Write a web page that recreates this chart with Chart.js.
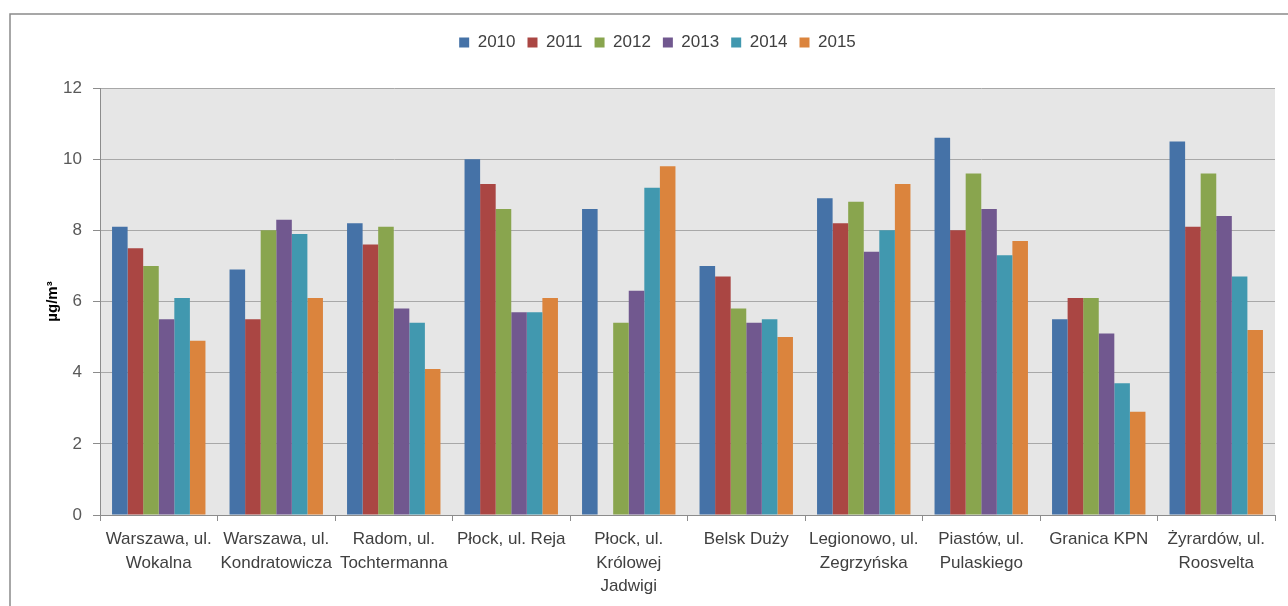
<!DOCTYPE html>
<html>
<head>
<meta charset="utf-8">
<title>PM2.5 – średnie roczne</title>
<script src="https://cdn.jsdelivr.net/npm/chart.js@4/dist/chart.umd.min.js"></script>
<style>
  html, body { margin: 0; padding: 0; background: #fff; }
  #wrap { width: 1288px; height: 606px; }
</style>
</head>
<body>
<div id="wrap"><canvas id="c" width="1288" height="606"></canvas></div>
<script>
// Stations (multi-line category labels)
const stations = [
  ['Warszawa, ul.', 'Wokalna'],
  ['Warszawa, ul.', 'Kondratowicza'],
  ['Radom, ul.', 'Tochtermanna'],
  ['Płock, ul. Reja'],
  ['Płock, ul.', 'Królowej', 'Jadwigi'],
  ['Belsk Duży'],
  ['Legionowo, ul.', 'Zegrzyńska'],
  ['Piastów, ul.', 'Pulaskiego'],
  ['Granica KPN'],
  ['Żyrardów, ul.', 'Roosvelta']
];

// Annual mean concentrations, µg/m³
const years = ['2010', '2011', '2012', '2013', '2014', '2015'];
const v2010 = [8.1, 6.9, 8.2, 10.0, 8.6, 7.0, 8.9, 10.6, 5.5, 10.5];
const v2011 = [7.5, 5.5, 7.6, 9.3, null, 6.7, 8.2, 8.0, 6.1, 8.1];
const v2012 = [7.0, 8.0, 8.1, 8.6, 5.4, 5.8, 8.8, 9.6, 6.1, 9.6];
const v2013 = [5.5, 8.3, 5.8, 5.7, 6.3, 5.4, 7.4, 8.6, 5.1, 8.4];
const v2014 = [6.1, 7.9, 5.4, 5.7, 9.2, 5.5, 8.0, 7.3, 3.7, 6.7];
const v2015 = [4.9, 6.1, 4.1, 6.1, 9.8, 5.0, 9.3, 7.7, 2.9, 5.2];

// Value axis ticks
const yTicks = [0, 2, 4, 6, 8, 10, 12];

const seriesValues = [v2010, v2011, v2012, v2013, v2014, v2015];
const seriesColors = ['#4572A7', '#AA4643', '#89A54E', '#71588F', '#4198AF', '#DB843D'];

// Layout constants (pixels)
const PAD_TOP = 22;
const PLOT_TOP = 88;
const PLOT_LEFT = 100;
const PLOT_RIGHT_GAP = 13;
const PLOT_BOTTOM = 515;
const CANVAS_H = 606;
const LEGEND_SHIFT = 40;

Chart.defaults.font.family = '"Liberation Sans", Arial, sans-serif';
Chart.defaults.font.size = 17;
Chart.defaults.color = '#404040';

// Plot background and outer frame
const framePlugin = {
  id: 'frame',
  beforeDraw(chart) {
    const { ctx, chartArea: a } = chart;
    ctx.save();
    ctx.fillStyle = '#ffffff';
    ctx.fillRect(0, 0, chart.width, chart.height);
    ctx.fillStyle = '#e6e6e6';
    ctx.fillRect(a.left, a.top, a.right - a.left, a.bottom - a.top);
    ctx.strokeStyle = '#8a8a8a';
    ctx.lineWidth = 1.5;
    ctx.strokeRect(10, 14, chart.width + 40, chart.height + 40);
    ctx.restore();
  }
};

// Fixed height band for the legend above the plot, legend nudged right
const legendBandPlugin = {
  id: 'legendBand',
  afterInit(chart) {
    const lg = chart.legend;
    if (!lg) return;
    const fit = lg.fit;
    lg.fit = function () {
      fit.call(this);
      this.height = PLOT_TOP - PAD_TOP;
    };
  },
  afterLayout(chart) {
    const lg = chart.legend;
    if (lg) lg.left += LEGEND_SHIFT;
  }
};

const datasets = years.map((y, i) => ({
  label: y,
  data: seriesValues[i],
  backgroundColor: seriesColors[i],
  borderWidth: 0,
  categoryPercentage: 0.795,
  barPercentage: 1.0
}));

new Chart(document.getElementById('c'), {
  type: 'bar',
  data: { labels: stations, datasets },
  plugins: [framePlugin, legendBandPlugin],
  options: {
    responsive: false,
    animation: false,
    devicePixelRatio: 1,
    layout: { padding: { top: PAD_TOP, left: 0, right: PLOT_RIGHT_GAP, bottom: 0 } },
    plugins: {
      legend: {
        position: 'top',
        align: 'center',
        labels: {
          boxWidth: 10,
          boxHeight: 10,
          padding: 12,
          color: '#404040',
          font: { size: 17 }
        }
      },
      tooltip: { enabled: false }
    },
    scales: {
      x: {
        offset: true,
        grid: {
          offset: true,
          drawOnChartArea: false,
          drawTicks: true,
          tickLength: 6,
          tickColor: '#8c8c8c'
        },
        border: { display: true, color: '#8c8c8c', width: 1 },
        ticks: {
          color: '#404040',
          font: { size: 17, lineHeight: 1.38 },
          padding: 7,
          maxRotation: 0,
          autoSkip: false
        },
        afterFit(scale) { scale.height = CANVAS_H - PLOT_BOTTOM; }
      },
      y: {
        min: yTicks[0],
        max: yTicks[yTicks.length - 1],
        afterBuildTicks(scale) { scale.ticks = yTicks.map(v => ({ value: v })); },
        grid: {
          color: '#a8a8a8',
          lineWidth: 1,
          drawTicks: true,
          tickLength: 7,
          tickColor: '#8c8c8c'
        },
        border: { display: true, color: '#8c8c8c', width: 1 },
        ticks: {
          color: '#595959',
          font: { size: 17 },
          padding: 11
        },
        title: {
          display: true,
          text: 'µg/m³',
          color: '#000000',
          font: { size: 15, weight: 'bold', lineHeight: 1.2 },
          padding: { top: 44, bottom: 0 }
        },
        afterFit(scale) { scale.width = PLOT_LEFT; }
      }
    }
  }
});
</script>
</body>
</html>
